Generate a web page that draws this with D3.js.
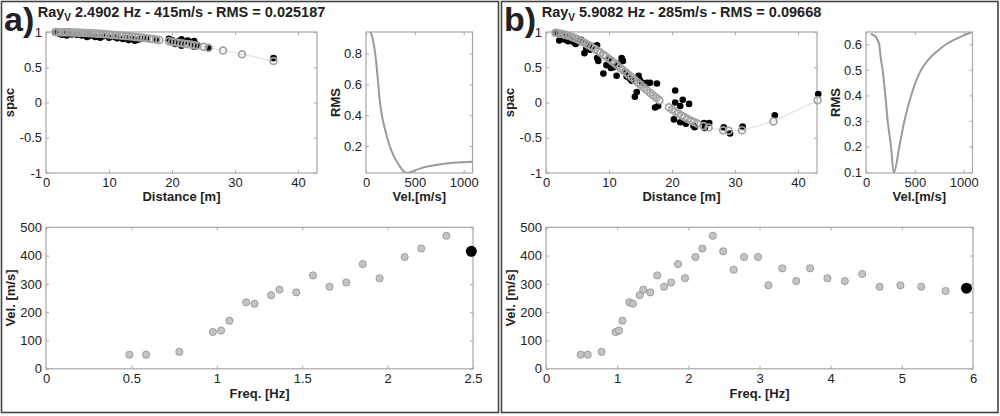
<!DOCTYPE html>
<html>
<head>
<meta charset="utf-8">
<script src="https://cdn.jsdelivr.net/npm/d3@7"></script>
<style>
  body { margin: 0; background: #fff; }
  svg text { font-family: "Liberation Sans", Arial, sans-serif; fill: #222; }
</style>
</head>
<body>
<svg id="chart" width="1000" height="416"></svg>
<script>
// station-pair distances [m] shared by both spac fits
const distances = [1.5, 1.8, 2.2, 2.6, 3.0, 3.3, 3.7, 4.1, 4.5, 4.9,
  5.3, 5.7, 6.1, 6.5, 6.9, 7.3, 7.8, 8.2, 8.6, 9.1,
  9.5, 10.0, 10.4, 10.9, 11.3, 11.8, 12.2, 12.7, 13.1, 13.6,
  14.1, 14.6, 15.0, 15.5, 16.0, 16.5, 17.0, 17.5, 18.0, 19.5,
  20.0, 20.5, 21.0, 21.5, 22.0, 22.5, 23.0, 23.5, 24.0, 25.0,
  25.8, 28.1, 29.0, 31.1, 36.1, 43.1]

// fitted spac (grey circles), null = pair not used
const theoA = [0.999, 0.999, 0.998, 0.998, 0.997, 0.996, 0.995, 0.994, 0.993, 0.992,
  0.990, 0.989, 0.987, 0.985, 0.983, 0.981, 0.978, 0.976, 0.974, 0.971,
  0.968, 0.965, 0.962, 0.958, 0.955, 0.951, 0.948, 0.943, 0.940, 0.935,
  0.930, 0.926, 0.922, 0.917, 0.911, 0.906, 0.900, 0.894, 0.888, 0.870,
  0.863, 0.856, 0.849, 0.842, 0.835, 0.828, 0.821, 0.813, 0.806, 0.790,
  0.777, 0.738, null, 0.685, 0.588, null]
const theoB = [0.991, 0.986, 0.980, 0.972, 0.962, 0.955, 0.943, 0.930, 0.916, 0.900,
  0.882, 0.865, 0.848, 0.827, 0.806, 0.785, 0.758, 0.733, 0.709, 0.678,
  0.652, 0.618, 0.591, 0.556, 0.527, 0.491, 0.462, 0.424, 0.394, 0.357,
  0.319, 0.281, 0.251, 0.213, 0.176, 0.139, 0.103, 0.068, 0.032, -0.067,
  -0.099, -0.128, -0.156, -0.185, -0.210, -0.234, -0.259, -0.278, -0.298, -0.333,
  -0.356, -0.395, -0.401, -0.392, -0.268, 0.032]

// observed spac (black dots)
const obsDistA = [1.5, 2.2, 2.6, 3.0, 3.3, 4.1, 4.9, 5.7, 6.5, 6.9, 7.8, 8.6, 9.1, 10.0, 10.9,
  11.3, 12.2, 12.7, 13.1, 13.6, 14.1, 14.6, 15.0, 16.0, 17.5, 19.5, 19.8, 20.0, 20.5, 21.0,
  21.5, 21.5, 22.0, 22.5, 23.0, 23.5, 23.5, 24.0, 25.8, 36.1]
const obsSpacA = [0.99, 0.97, 0.96, 0.975, 0.95, 0.965, 0.96, 0.95, 0.93, 0.945, 0.93, 0.92, 0.94, 0.92, 0.93,
  0.91, 0.90, 0.915, 0.885, 0.90, 0.875, 0.89, 0.905, 0.91, 0.885, 0.905, 0.865, 0.885, 0.83, 0.87,
  0.895, 0.805, 0.86, 0.88, 0.84, 0.79, 0.87, 0.82, 0.765, 0.63]
const obsDistB = [1.5, 2.1, 2.6, 3.0, 3.3, 3.5, 3.9, 4.3, 4.7, 5.3, 5.6, 6.1, 6.4, 6.8, 7.0,
  7.5, 8.1, 8.1, 8.3, 9.1, 9.6, 10.0, 10.3, 10.7, 11.2, 11.5, 12.0, 12.2, 12.5, 12.8,
  13.3, 13.6, 14.1, 14.4, 14.7, 14.9, 15.3, 16.0, 16.5, 17.3, 17.6, 17.8, 20.3, 20.5, 20.5,
  21.3, 21.3, 21.7, 22.2, 22.7, 23.4, 23.6, 25.1, 25.2, 25.9, 28.2, 29.2, 31.2, 36.3, 43.2]
const obsSpacB = [0.98, 0.88, 0.96, 0.89, 0.94, 0.87, 0.90, 0.86, 0.83, 0.86, 0.89, 0.70, 0.77, 0.82, 0.75,
  0.80, 0.81, 0.63, 0.59, 0.41, 0.53, 0.62, 0.49, 0.50, 0.38, 0.55, 0.63, 0.59, 0.44, 0.37,
  0.34, 0.31, 0.08, 0.15, 0.38, 0.32, 0.28, 0.28, 0.28, -0.07, 0.27, -0.05, -0.24, 0.17, 0.00,
  -0.05, -0.28, 0.04, -0.30, -0.02, -0.33, -0.35, -0.29, -0.36, -0.29, -0.35, -0.44, -0.34, -0.18, 0.12]

// misfit curves
const rmsVelA = [45, 60, 80, 100, 120, 140, 160, 190, 230, 260, 300, 350, 380, 415, 450, 500, 600, 700, 800, 900, 1000, 1090]
const rmsA = [0.94, 0.915, 0.86, 0.77, 0.64, 0.50, 0.41, 0.32, 0.225, 0.17, 0.115, 0.065, 0.04, 0.025, 0.03, 0.042, 0.063, 0.076, 0.085, 0.091, 0.095, 0.098]
const rmsVelB = [50, 80, 100, 120, 135, 150, 170, 198, 222, 256, 285, 341, 393, 462, 564, 650, 735, 820, 906, 1000, 1085]
const rmsB = [0.642, 0.635, 0.630, 0.615, 0.60, 0.55, 0.50, 0.40, 0.30, 0.20, 0.097, 0.20, 0.30, 0.40, 0.50, 0.545, 0.575, 0.60, 0.618, 0.635, 0.648]

// dispersion picks
const freqA = [0.488, 0.586, 0.781, 0.977, 1.025, 1.074, 1.172, 1.221, 1.318, 1.367,
  1.465, 1.563, 1.660, 1.758, 1.855, 1.953, 2.100, 2.197, 2.344]
const velA = [50, 50, 60, 130, 135, 170, 235, 230, 260, 280,
  270, 330, 290, 305, 370, 320, 395, 425, 470]
const freqB = [0.488, 0.586, 0.781, 0.977, 1.025, 1.074, 1.172, 1.221, 1.318, 1.367,
  1.465, 1.563, 1.660, 1.758, 1.855, 1.953, 2.100, 2.197, 2.344, 2.490,
  2.637, 2.783, 2.979, 3.125, 3.320, 3.516, 3.711, 3.955, 4.199, 4.443,
  4.688, 4.980, 5.273, 5.615]
const velB = [50, 50, 60, 130, 135, 170, 235, 230, 260, 280,
  270, 330, 290, 305, 370, 320, 395, 425, 470, 415,
  350, 395, 395, 295, 355, 310, 355, 320, 310, 335,
  290, 295, 290, 275]

const pickA = [2.4902, 415]
const pickB = [5.9082, 285]

const axisColor = '#a8a8a8'
const svg = d3.select('#chart')

const panels = [
  { ox: 0, tag: 'a)', title: ' 2.4902 Hz - 415m/s - RMS = 0.025187', theo: theoA,
    obsD: obsDistA, obsS: obsSpacA, rmsV: rmsVelA, rmsY: rmsA, rmsDom: [0.025, 0.94],
    rmsTicks: [0.2, 0.4, 0.6, 0.8], freq: freqA, vel: velA, pick: pickA,
    fDom: [0, 2.5], fTicks: [0, 0.5, 1, 1.5, 2, 2.5] },
  { ox: 500, tag: 'b)', title: ' 5.9082 Hz - 285m/s - RMS = 0.09668', theo: theoB,
    obsD: obsDistB, obsS: obsSpacB, rmsV: rmsVelB, rmsY: rmsB, rmsDom: [0.0967, 0.648],
    rmsTicks: [0.1, 0.2, 0.3, 0.4, 0.5, 0.6], freq: freqB, vel: velB, pick: pickB,
    fDom: [0, 6], fTicks: [0, 1, 2, 3, 4, 5, 6] }
]

/**
 * box with inward ticks on all four sides, like matlab "box on"
 */
const drawFrame = (g, x, y, xTicks, yTicks, w, h) => {
  g.append('g').attr('transform', `translate(0,${h})`)
    .call(d3.axisBottom(x).tickValues(xTicks).tickSize(-3).tickPadding(5).tickFormat(String))
  g.append('g')
    .call(d3.axisTop(x).tickValues(xTicks).tickSize(-3).tickFormat(''))
  g.append('g')
    .call(d3.axisLeft(y).tickValues(yTicks).tickSize(-3).tickPadding(4).tickFormat(String))
  g.append('g').attr('transform', `translate(${w},0)`)
    .call(d3.axisRight(y).tickValues(yTicks).tickSize(-3).tickFormat(''))
  g.selectAll('.domain').remove()
  g.selectAll('.tick line').attr('stroke', axisColor)
  g.selectAll('.tick text').attr('fill', '#222')
  g.selectAll('g').attr('font-size', 13).attr('font-family', '"Liberation Sans", Arial, sans-serif')
  g.append('rect').attr('width', w).attr('height', h)
    .attr('fill', 'none').attr('stroke', axisColor).attr('stroke-width', 1.2)
}

const axisLabel = (g, text, x, y, rotate) => {
  g.append('text')
    .attr('transform', `translate(${x},${y})` + (rotate ? ' rotate(-90)' : ''))
    .attr('text-anchor', 'middle')
    .attr('font-size', 13).attr('font-weight', 'bold')
    .text(text)
}

panels.forEach((p, i) => {
  const root = svg.append('g').attr('transform', `translate(${p.ox},0)`)

  root.append('rect')
    .attr('x', 1.5).attr('y', 1.5)
    .attr('width', i === 0 ? 497 : 496.5).attr('height', 411)
    .attr('fill', 'none').attr('stroke', '#444').attr('stroke-width', 1.6)

  root.append('text').attr('x', 4).attr('y', 31)
    .attr('font-size', 34).attr('font-weight', 'bold').attr('fill', '#111')
    .text(p.tag)

  // spac vs distance
  const sw = 271, sh = 141
  const sg = root.append('g').attr('transform', 'translate(46,32)')
  const sx = d3.scaleLinear().domain([0, 43]).range([0, sw])
  const sy = d3.scaleLinear().domain([-1, 1]).range([sh, 0])
  drawFrame(sg, sx, sy, [0, 10, 20, 30, 40], [-1, -0.5, 0, 0.5, 1], sw, sh)

  const fit = distances.map((d, k) => [d, p.theo[k]]).filter(v => v[1] !== null)
  sg.append('path')
    .attr('d', d3.line().x(v => sx(v[0])).y(v => sy(v[1]))(fit))
    .attr('fill', 'none').attr('stroke', '#e2e2e2').attr('stroke-width', 1.2)
  sg.selectAll('circle.obs').data(p.obsD).join('circle')
    .attr('class', 'obs')
    .attr('cx', d => sx(d)).attr('cy', (d, k) => sy(p.obsS[k]))
    .attr('r', 3.3).attr('fill', '#000')
  sg.selectAll('circle.fit').data(fit).join('circle')
    .attr('class', 'fit')
    .attr('cx', v => sx(v[0])).attr('cy', v => sy(v[1]))
    .attr('r', 3.4).attr('fill', 'none').attr('stroke', '#a2a2a2').attr('stroke-width', 1.7)

  const title = root.append('text').attr('x', 46 + sw / 2).attr('y', 16.5)
    .attr('text-anchor', 'middle').attr('font-size', 14.5).attr('font-weight', 'bold')
  title.append('tspan').text('Ray')
  title.append('tspan').attr('dy', 4).attr('font-size', 10).text('V')
  title.append('tspan').attr('dy', -4).text(p.title)

  axisLabel(root, 'spac', 14, 32 + sh / 2, true)
  axisLabel(root, 'Distance [m]', 46 + sw / 2, 201)

  // misfit vs velocity
  const rw = 106.5, rh = 141
  const rg = root.append('g').attr('transform', 'translate(366,32)')
  const rx = d3.scaleLinear().domain([0, 1090]).range([0, rw])
  const ry = d3.scaleLinear().domain(p.rmsDom).range([rh, 0])
  drawFrame(rg, rx, ry, [0, 500, 1000], p.rmsTicks, rw, rh)
  const clipId = 'clip' + i
  rg.append('clipPath').attr('id', clipId)
    .append('rect').attr('width', rw).attr('height', rh)
  rg.append('path')
    .attr('clip-path', `url(#${clipId})`)
    .attr('d', d3.line().curve(d3.curveMonotoneX)
      .x((v) => rx(v)).y((v, k) => ry(p.rmsY[k]))(p.rmsV))
    .attr('fill', 'none').attr('stroke', '#9a9a9a').attr('stroke-width', 2)
  axisLabel(root, 'RMS', 340, 32 + rh / 2, true)
  axisLabel(root, 'Vel.[m/s]', 366 + rw / 2, 201)

  // dispersion curve
  const bw = 427, bh = 141.5
  const bg = root.append('g').attr('transform', 'translate(46,227.3)')
  const bx = d3.scaleLinear().domain(p.fDom).range([0, bw])
  const by = d3.scaleLinear().domain([0, 500]).range([bh, 0])
  drawFrame(bg, bx, by, p.fTicks, [0, 100, 200, 300, 400, 500], bw, bh)
  bg.selectAll('circle.pt').data(p.freq).join('circle')
    .attr('class', 'pt')
    .attr('cx', f => bx(f)).attr('cy', (f, k) => by(p.vel[k]))
    .attr('r', 3.6).attr('fill', '#c4c4c4').attr('stroke', '#8e8e8e').attr('stroke-width', 0.8)
  bg.append('circle')
    .attr('cx', bx(p.pick[0])).attr('cy', by(p.pick[1]))
    .attr('r', 5.5).attr('fill', '#000')
  axisLabel(root, 'Vel. [m/s]', 14.5, 227.3 + bh / 2, true)
  axisLabel(root, 'Freq. [Hz]', 46 + bw / 2, 398)
})
</script>
</body>
</html>
